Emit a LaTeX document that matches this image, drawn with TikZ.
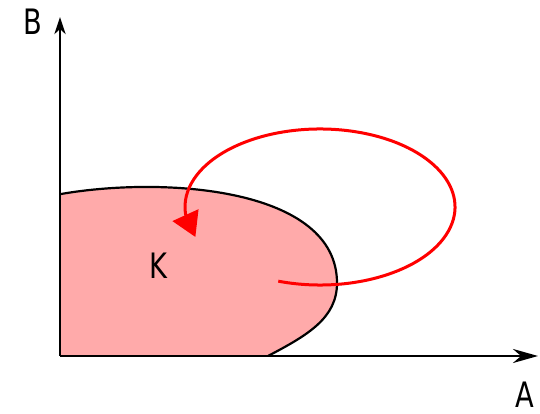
\documentclass[tikz,border=0pt]{standalone}
\usepackage{fontspec}
\setmainfont[FakeStretch=0.78]{DejaVu Sans}
\usetikzlibrary{arrows.meta,bending}
\definecolor{pinkfill}{HTML}{FFAAAA}
\definecolor{loopred}{HTML}{FF0000}
\begin{document}
\begin{tikzpicture}[x=1pt,y=1pt,
  axis/.style={line width=2.8pt},
  border/.style={line width=2.2pt},
  loop/.style={loopred,line width=3pt},
  lbl/.style={font=\fontsize{35}{40}\selectfont, inner sep=0pt}]
\useasboundingbox (0,0) rectangle (540,414);
\coordinate (O) at (60,58);
\coordinate (Ytop) at (60,397);
\coordinate (Xend) at (538,58);
\coordinate (C) at (320,207);
% region K
\fill[pinkfill] (61,220) .. controls (165,238) and (337,226) .. (337,131)
   .. controls (337,96) and (308,79) .. (268,58) -- (60,58) -- cycle;
\draw[border] (61,220) .. controls (165,238) and (337,226) .. (337,131)
   .. controls (337,96) and (308,79) .. (268,58);
% axes
\draw[axis,-{Stealth[length=17pt,width=11pt,inset=5pt]}] (O) -- (Ytop);
\draw[axis,-{Stealth[length=25pt,width=14pt,inset=8pt]}] (O) -- (Xend);
% labels
\node[lbl] (B) at (32.5,392.5) {B};
\node[lbl] (A) at (524.5,19.5) {A};
\node[lbl] (K) at (158.5,148.5) {K};
% loop
\draw[loop,-{Triangle[length=24pt,width=28pt,flex]}] (C) ++(-108:135pt and 78pt)
   arc[start angle=-108, end angle=202.6, x radius=135pt, y radius=78pt];
\end{tikzpicture}
\end{document}
